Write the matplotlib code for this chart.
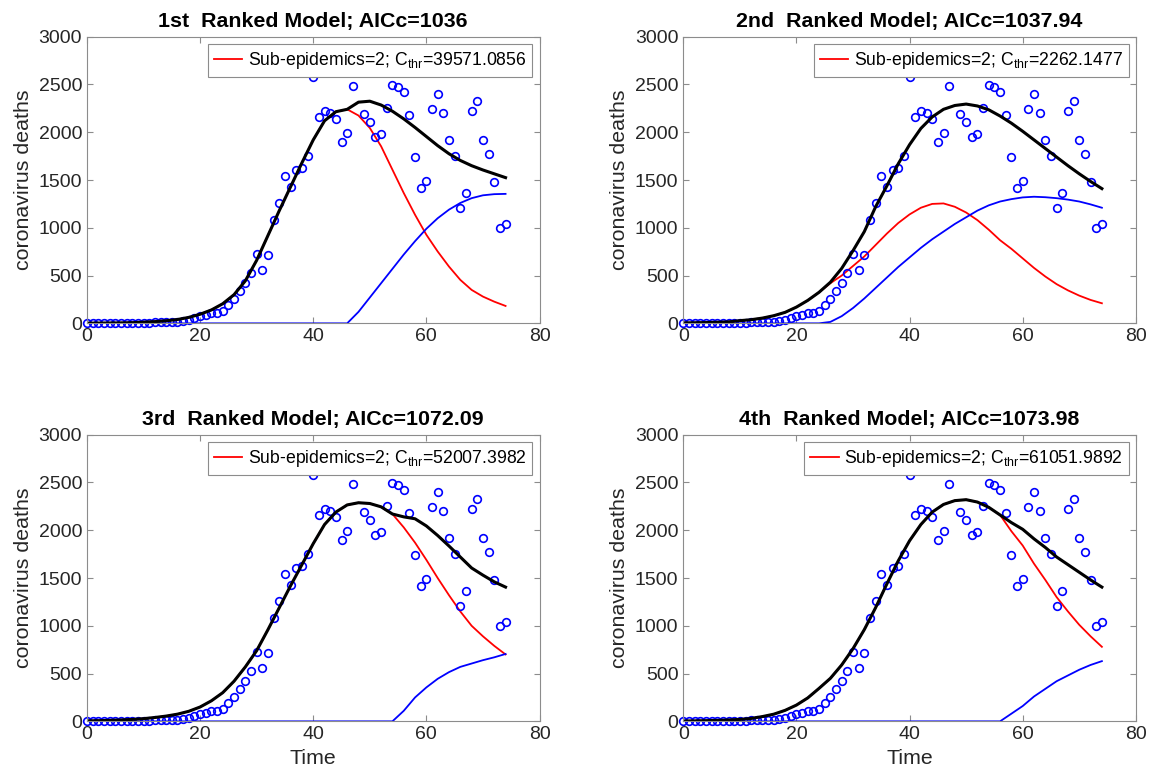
import numpy as np
import matplotlib
matplotlib.use("Agg")
import matplotlib.pyplot as plt

plt.rcParams['font.family'] = ['Liberation Sans', 'DejaVu Sans']
plt.rcParams['mathtext.fontset'] = 'custom'
plt.rcParams['mathtext.rm'] = 'Liberation Sans'

# observed daily deaths, days 0..74
days = np.arange(75)
deaths = [3, 2, 3, 4, 3, 5, 4, 6, 5, 7, 6, 8, 9, 11, 13, 15,
          18, 26, 36, 52, 77, 84, 112, 105, 130, 189, 252, 339, 420, 524,
          724, 559, 710, 1080, 1259, 1538, 1427, 1608, 1622, 1748,
          2577, 2157, 2220, 2206, 2140, 1895, 1993, 2483, 2640, 2192,
          2105, 1951, 1983, 2252, 2490, 2472, 2423, 2178, 1741, 1416,
          1486, 2248, 2402, 2199, 1916, 1748, 1206, 1364, 2227, 2332,
          1920, 1776, 1476, 1003, 1042]

# model curves read every 2 days (0..74)
t_fit = np.arange(0, 75, 2)

total_1 = [2, 3, 4, 5, 7, 12, 18, 27, 40, 62, 95, 140, 205, 300, 445, 660, 920, 1180, 1430,
           1680, 1920, 2120, 2215, 2240, 2315, 2325, 2285, 2220, 2140, 2050, 1955, 1860,
           1775, 1705, 1650, 1605, 1565, 1525]
sub1_1 = [2, 3, 4, 5, 7, 12, 18, 27, 40, 62, 95, 140, 205, 300, 445, 660, 920, 1180, 1430,
          1680, 1920, 2120, 2215, 2240, 2175, 2045, 1853, 1608, 1364, 1136, 927, 752,
          594, 455, 350, 280, 227, 182]
sub2_1 = [0, 0, 0, 0, 0, 0, 0, 0, 0, 0, 0, 0, 0, 0, 0, 0, 0, 0, 0,
          0, 0, 0, 0, 0, 120, 270, 420, 570, 720, 860, 990, 1100,
          1190, 1260, 1310, 1340, 1352, 1355]

total_2 = [5, 6, 8, 11, 15, 28, 38, 55, 80, 115, 170, 240, 325, 430, 575, 760, 960, 1220, 1440,
           1670, 1870, 2040, 2160, 2240, 2280, 2295, 2275, 2235, 2170, 2095, 2010, 1920,
           1830, 1740, 1650, 1565, 1485, 1410]
sub1_2 = [5, 6, 8, 11, 15, 28, 38, 55, 80, 115, 170, 240, 325, 420, 500, 600, 700, 820, 940,
          1050, 1140, 1210, 1250, 1255, 1220, 1160, 1080, 980, 870, 780, 680, 580,
          490, 410, 345, 290, 245, 210]
sub2_2 = [0, 0, 0, 0, 0, 0, 0, 0, 0, 0, 0, 0, 0, 15, 75, 160, 260, 370, 480,
          590, 690, 790, 880, 960, 1040, 1110, 1180, 1235, 1275, 1300, 1318, 1325,
          1320, 1310, 1295, 1275, 1245, 1210]

total_3 = [5, 7, 10, 14, 20, 28, 40, 55, 75, 105, 150, 215, 300, 420, 570, 740, 960, 1190, 1420,
           1640, 1860, 2060, 2190, 2265, 2288, 2280, 2245, 2170, 2140, 2120, 2045, 1945,
           1835, 1720, 1605, 1530, 1460, 1405]
sub1_3 = [5, 7, 10, 14, 20, 28, 40, 55, 75, 105, 150, 215, 300, 420, 570, 740, 960, 1190, 1420,
          1640, 1860, 2060, 2190, 2265, 2288, 2280, 2245, 2170, 2030, 1870, 1690, 1500,
          1320, 1150, 1000, 890, 790, 700]
sub2_3 = [0, 0, 0, 0, 0, 0, 0, 0, 0, 0, 0, 0, 0, 0, 0, 0, 0, 0, 0,
          0, 0, 0, 0, 0, 0, 0, 0, 0, 110, 250, 355, 445,
          515, 570, 605, 640, 670, 705]

total_4 = [4, 5, 7, 10, 14, 20, 30, 50, 75, 115, 170, 245, 345, 450, 590, 760, 960, 1190, 1440,
           1680, 1890, 2060, 2190, 2270, 2310, 2320, 2295, 2240, 2160, 2080, 2010, 1910,
           1820, 1720, 1640, 1560, 1480, 1405]
sub1_4 = [4, 5, 7, 10, 14, 20, 30, 50, 75, 115, 170, 245, 345, 450, 590, 760, 960, 1190, 1440,
          1680, 1890, 2060, 2190, 2270, 2310, 2320, 2295, 2240, 2160, 1990, 1840, 1650,
          1480, 1300, 1150, 1010, 890, 780]
sub2_4 = [0, 0, 0, 0, 0, 0, 0, 0, 0, 0, 0, 0, 0, 0, 0, 0, 0, 0, 0,
          0, 0, 0, 0, 0, 0, 0, 0, 0, 0, 80, 160, 260,
          340, 420, 480, 540, 590, 630]

titles = ['1st  Ranked Model; AICc=1036', '2nd  Ranked Model; AICc=1037.94',
          '3rd  Ranked Model; AICc=1072.09', '4th  Ranked Model; AICc=1073.98']
c_thr = ['39571.0856', '2262.1477', '52007.3982', '61051.9892']

totals = [total_1, total_2, total_3, total_4]
subs1 = [sub1_1, sub1_2, sub1_3, sub1_4]
subs2 = [sub2_1, sub2_2, sub2_3, sub2_4]

boxes = [[0.0753, 0.586, 0.3918, 0.367], [0.5916, 0.586, 0.3918, 0.367],
         [0.0753, 0.0764, 0.3918, 0.367], [0.5916, 0.0764, 0.3918, 0.367]]

fig = plt.figure(figsize=(11.55, 7.81), dpi=100)
edge = '#8c8c8c'
txt = '#262626'

for i in range(4):
    ax = fig.add_axes(boxes[i])
    ax.plot(t_fit, subs1[i], color='red', lw=1.3,
            label=r'Sub-epidemics=2; C$_{\mathregular{thr}}$=' + c_thr[i])
    ax.plot(t_fit, subs2[i], color='blue', lw=1.3)
    ax.plot(days, deaths, 'o', mfc='none', mec='blue', ms=5.5, mew=1.2, clip_on=False)
    ax.plot(t_fit, totals[i], color='black', lw=2.2)

    ax.set_xlim(0, 80)
    ax.set_ylim(0, 3000)
    ax.set_xticks([0, 20, 40, 60, 80])
    ax.set_yticks([0, 500, 1000, 1500, 2000, 2500, 3000])
    ax.tick_params(direction='in', top=True, right=True, length=4, width=0.8,
                   color=edge, labelcolor=txt, labelsize=14)
    for s in ax.spines.values():
        s.set_color(edge)
        s.set_linewidth(0.8)

    ax.set_title(titles[i], fontsize=15.4, fontweight='bold', color='black', pad=7)
    ax.set_ylabel('coronavirus deaths', fontsize=15.4, color=txt)
    if i >= 2:
        ax.set_xlabel('Time', fontsize=15.4, color=txt)

    leg = ax.legend(loc='upper right', fontsize=12.7, handlelength=1.6,
                    fancybox=False, framealpha=1, edgecolor=edge,
                    borderaxespad=0.4, handletextpad=0.3, borderpad=0.35)
    leg.get_frame().set_linewidth(0.8)

plt.savefig('out.png', dpi=100)
